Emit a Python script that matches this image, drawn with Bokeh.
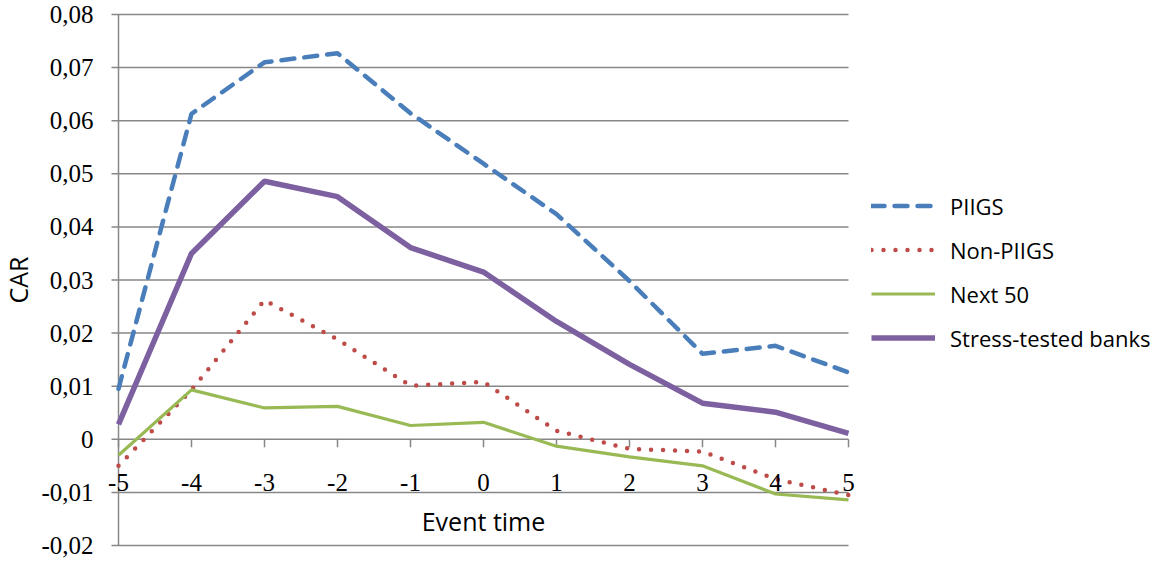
import math
from bokeh.plotting import figure
from bokeh.models import Range1d, Legend, LegendItem, LabelSet, Label, ColumnDataSource
from bokeh.embed import file_html
from bokeh.resources import INLINE

event_time = [-5, -4, -3, -2, -1, 0, 1, 2, 3, 4, 5]
piigs = [0.0095, 0.0613, 0.0710, 0.0727, 0.0614, 0.0519, 0.0424, 0.0298, 0.0161, 0.0176, 0.0126]
non_piigs = [-0.0050, 0.0093, 0.0262, 0.0188, 0.0101, 0.0108, 0.0016, -0.0018, -0.0023, -0.0075, -0.0105]
next_50 = [-0.0030, 0.0093, 0.0059, 0.0062, 0.0026, 0.0032, -0.0013, -0.0033, -0.0050, -0.0103, -0.0114]
stress_tested = [0.0028, 0.0350, 0.0486, 0.0457, 0.0361, 0.0315, 0.0222, 0.0141, 0.0068, 0.0051, 0.0011]

y_ticks = [-0.02, -0.01, 0, 0.01, 0.02, 0.03, 0.04, 0.05, 0.06, 0.07, 0.08]
y_tick_labels = ["-0,02", "-0,01", "0", "0,01", "0,02", "0,03", "0,04", "0,05", "0,06", "0,07", "0,08"]
x_tick_labels = ["-5", "-4", "-3", "-2", "-1", "0", "1", "2", "3", "4", "5"]

FONT = "Open Sans"
FS = "25px"
FS_LEG = "22px"
GRID = "#878787"

# layout (pixels inside the 1156x560 figure)
W, H = 1156, 560
PX_L, PX_R = 118, 848        # x = -5 and x = 5
PX_T, PX_B = 14, 545         # y = 0.08 and y = -0.02 (from top)
xmin, xmax = event_time[0], event_time[-1]
ymin, ymax = y_ticks[0], y_ticks[-1]
xs = (xmax - xmin) / (PX_R - PX_L)
ys = (ymax - ymin) / (PX_B - PX_T)

p = figure(width=W, height=H, output_backend="svg", toolbar_location=None,
           x_range=Range1d(xmin - PX_L * xs, xmax + (W - PX_R) * xs),
           y_range=Range1d(ymin - (H - PX_B) * ys, ymax + PX_T * ys),
           min_border=0)
p.outline_line_color = None
p.axis.visible = False
p.grid.visible = False

# horizontal grid lines (with outer tick part)
n = len(y_ticks)
grid_src = ColumnDataSource(dict(x0=[xmin - 7 * xs] * n, x1=[xmax] * n, y=y_ticks,
                                 lab=y_tick_labels, xl=[xmin] * n))
p.segment(x0="x0", y0="y", x1="x1", y1="y", source=grid_src, line_color=GRID, line_width=1.5)
# vertical axis line
p.segment(x0=[xmin], y0=[ymin], x1=[xmin], y1=[ymax], line_color=GRID, line_width=1.5)
p.add_layout(LabelSet(x="xl", y="y", text="lab", source=grid_src, x_offset=-25,
                      text_align="right", text_baseline="middle",
                      text_font=FONT, text_font_size=FS, text_color="black"))
p.add_layout(Label(x=xmin, y=(ymin + ymax) / 2, x_offset=-101, y_offset=0, text="CAR",
                   angle=math.pi / 2, text_align="center", text_baseline="middle",
                   text_font=FONT, text_font_size=FS, text_color="black"))

# x axis at y = 0: ticks and labels
m = len(event_time)
tick_src = ColumnDataSource(dict(x=event_time, y0=[0] * m, y1=[-8 * ys] * m, lab=x_tick_labels))
p.segment(x0="x", y0="y0", x1="x", y1="y1", source=tick_src, line_color=GRID, line_width=1.5)
p.add_layout(LabelSet(x="x", y="y0", text="lab", source=tick_src, y_offset=-43,
                      text_align="center", text_baseline="middle",
                      text_font=FONT, text_font_size=FS, text_color="black"))
p.add_layout(Label(x=(xmin + xmax) / 2, y=0, y_offset=-82, text="Event time", text_align="center",
                   text_baseline="middle", text_font=FONT, text_font_size=FS,
                   text_color="black"))

r1 = p.line(event_time, piigs, line_color="#4A7EBB", line_width=4.5,
            line_dash="13 10", line_cap="round")
r2 = p.line(event_time, non_piigs, line_color="#BE4B48", line_width=4.5,
            line_dash="0 12", line_cap="round")
r3 = p.line(event_time, next_50, line_color="#98B954", line_width=3.2)
r4 = p.line(event_time, stress_tested, line_color="#7D60A0", line_width=5.5)

legend = Legend(items=[LegendItem(label="PIIGS", renderers=[r1]),
                       LegendItem(label="Non-PIIGS", renderers=[r2]),
                       LegendItem(label="Next 50", renderers=[r3]),
                       LegendItem(label="Stress-tested banks", renderers=[r4])],
                location=(871, 207), orientation="vertical",
                glyph_width=64, glyph_height=31, label_height=31, spacing=13,
                label_standoff=15, padding=0, margin=0,
                border_line_color=None, background_fill_alpha=0,
                label_text_font=FONT, label_text_font_size=FS_LEG, label_text_color="black",
                label_text_baseline="middle")
p.add_layout(legend)

open("out.html", "w").write(file_html(p, INLINE))
